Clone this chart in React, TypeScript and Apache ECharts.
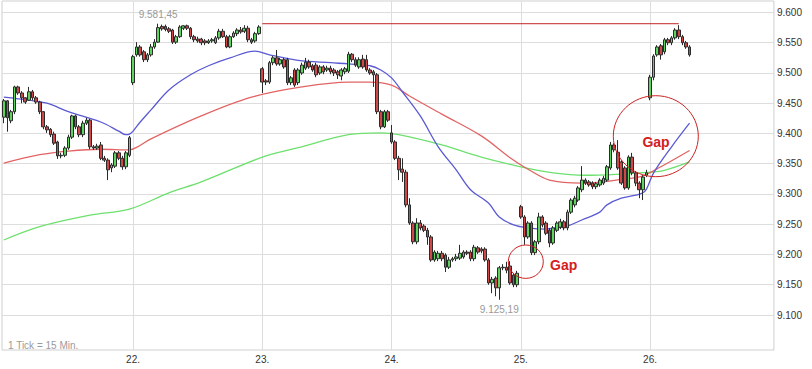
import React, { useEffect, useRef } from "react";
import * as echarts from "echarts";

const FONT = "'Liberation Sans', Arial, sans-serif";

const days = ["21.", "22.", "23.", "24.", "25.", "26."];
const barsPerDay = 36;
const totalSlots = 215;
const yTicks = [9100, 9150, 9200, 9250, 9300, 9350, 9400, 9450, 9500, 9550, 9600];
const yMin = 9042.15;
const yMax = 9619;
const resistance = 9581.45;
const resistanceFrom = 72;
const resistanceTo = 188;

// [open, close, low, high]
const day21 = [
  [9427, 9454, 9417, 9457], [9454, 9426, 9403, 9455], [9421, 9436, 9417, 9439], [9436, 9477, 9432, 9479],
  [9477, 9467, 9464, 9479], [9467, 9459, 9450, 9470], [9459, 9452, 9449, 9460], [9455, 9469, 9454, 9477],
  [9469, 9459, 9455, 9472], [9459, 9452, 9449, 9462], [9452, 9436, 9432, 9454], [9436, 9411, 9407, 9437],
  [9411, 9406, 9401, 9414], [9407, 9398, 9394, 9409], [9399, 9384, 9381, 9403], [9386, 9363, 9358, 9388],
  [9363, 9364, 9359, 9368], [9364, 9376, 9361, 9379], [9376, 9394, 9373, 9398], [9394, 9429, 9391, 9431],
  [9429, 9411, 9407, 9431], [9411, 9398, 9394, 9414], [9398, 9417, 9394, 9421], [9417, 9422, 9414, 9426],
  [9422, 9378, 9374, 9424], [9378, 9376, 9373, 9381], [9376, 9379, 9373, 9383], [9381, 9359, 9356, 9386],
  [9359, 9356, 9353, 9363], [9356, 9340, 9323, 9359], [9343, 9348, 9336, 9351], [9346, 9368, 9343, 9371],
  [9368, 9359, 9356, 9371], [9359, 9345, 9340, 9363], [9345, 9368, 9341, 9371], [9364, 9393, 9361, 9396],
];
const day22 = [
  [9484, 9527, 9480, 9530], [9530, 9543, 9527, 9551], [9543, 9530, 9527, 9546], [9535, 9522, 9518, 9538],
  [9522, 9530, 9518, 9533], [9530, 9543, 9527, 9548], [9543, 9551, 9540, 9556], [9551, 9575, 9550, 9581.45],
  [9577, 9573, 9570, 9580], [9577, 9572, 9569, 9580], [9573, 9569, 9566, 9576], [9571, 9551, 9548, 9573],
  [9551, 9560, 9548, 9563], [9560, 9576, 9558, 9579], [9574, 9578, 9571, 9579], [9578, 9574, 9571, 9580],
  [9574, 9560, 9556, 9576], [9560, 9555, 9551, 9563], [9556, 9553, 9550, 9560], [9556, 9550, 9546, 9558],
  [9553, 9550, 9546, 9556], [9550, 9553, 9548, 9556], [9553, 9555, 9550, 9558], [9550, 9558, 9548, 9561],
  [9558, 9569, 9555, 9573], [9569, 9560, 9558, 9573], [9560, 9543, 9541, 9563], [9543, 9560, 9541, 9563],
  [9560, 9566, 9558, 9569], [9565, 9571, 9561, 9574], [9571, 9568, 9565, 9576], [9569, 9574, 9566, 9579],
  [9574, 9555, 9551, 9578], [9555, 9551, 9548, 9558], [9553, 9565, 9550, 9568], [9565, 9576, 9563, 9579],
];
const day23 = [
  [9507, 9485, 9467, 9510], [9487, 9485, 9480, 9490], [9485, 9517, 9482, 9520], [9517, 9525, 9513, 9528],
  [9525, 9515, 9512, 9538], [9515, 9522, 9512, 9525], [9522, 9510, 9507, 9525], [9522, 9484, 9480, 9525],
  [9484, 9492, 9480, 9495], [9505, 9480, 9477, 9508], [9484, 9505, 9480, 9508], [9500, 9513, 9497, 9517],
  [9508, 9518, 9505, 9525], [9518, 9510, 9507, 9522], [9512, 9505, 9502, 9515], [9513, 9497, 9493, 9517],
  [9500, 9510, 9497, 9513], [9510, 9502, 9498, 9513], [9505, 9508, 9502, 9512], [9508, 9502, 9498, 9512],
  [9505, 9500, 9495, 9508], [9502, 9497, 9490, 9505], [9495, 9505, 9488, 9508], [9502, 9507, 9498, 9510],
  [9503, 9531, 9500, 9535], [9531, 9522, 9518, 9533], [9522, 9513, 9510, 9526], [9510, 9522, 9507, 9526],
  [9523, 9510, 9507, 9530], [9522, 9505, 9502, 9530], [9505, 9500, 9497, 9508], [9502, 9497, 9477, 9505],
  [9497, 9436, 9432, 9500], [9436, 9411, 9407, 9439], [9411, 9436, 9409, 9439], [9436, 9422, 9419, 9439],
];
const day24 = [
  [9401, 9386, 9383, 9414], [9386, 9359, 9356, 9389], [9359, 9340, 9323, 9363], [9341, 9336, 9320, 9359],
  [9336, 9282, 9278, 9340], [9282, 9252, 9249, 9293], [9252, 9221, 9217, 9255], [9221, 9252, 9217, 9260],
  [9252, 9244, 9240, 9257], [9247, 9240, 9237, 9250], [9240, 9229, 9216, 9244], [9229, 9191, 9188, 9232],
  [9191, 9204, 9188, 9207], [9193, 9202, 9189, 9206], [9202, 9193, 9189, 9206], [9199, 9179, 9171, 9202],
  [9179, 9191, 9176, 9196], [9191, 9193, 9188, 9196], [9193, 9196, 9189, 9201], [9194, 9202, 9191, 9216],
  [9196, 9204, 9193, 9207], [9204, 9202, 9199, 9207], [9204, 9193, 9189, 9207], [9193, 9212, 9189, 9216],
  [9211, 9204, 9201, 9214], [9209, 9206, 9202, 9212], [9209, 9191, 9188, 9212], [9191, 9153, 9150, 9194],
  [9153, 9159, 9136, 9163], [9161, 9145, 9131, 9164], [9145, 9178, 9125.19, 9181], [9178, 9179, 9174, 9184],
  [9179, 9174, 9169, 9188], [9181, 9153, 9150, 9189], [9166, 9150, 9146, 9169], [9150, 9169, 9146, 9173],
];
const day25 = [
  [9279, 9262, 9259, 9282], [9262, 9229, 9216, 9265], [9229, 9252, 9226, 9255], [9252, 9203, 9199, 9255],
  [9203, 9221, 9199, 9224], [9221, 9262, 9217, 9269], [9262, 9249, 9245, 9265], [9252, 9235, 9232, 9255],
  [9240, 9219, 9212, 9244], [9219, 9244, 9216, 9247], [9240, 9252, 9237, 9255], [9245, 9254, 9242, 9259],
  [9254, 9244, 9240, 9257], [9244, 9270, 9240, 9274], [9270, 9290, 9267, 9293], [9282, 9293, 9278, 9297],
  [9290, 9310, 9287, 9313], [9307, 9323, 9303, 9346], [9323, 9318, 9315, 9326], [9320, 9315, 9312, 9323],
  [9318, 9312, 9308, 9321], [9312, 9317, 9308, 9320], [9315, 9323, 9312, 9326], [9318, 9326, 9315, 9330],
  [9323, 9345, 9320, 9348], [9343, 9381, 9340, 9386], [9381, 9373, 9369, 9384], [9369, 9343, 9340, 9389],
  [9353, 9318, 9315, 9356], [9343, 9310, 9307, 9346], [9310, 9361, 9307, 9364], [9361, 9335, 9331, 9368],
  [9335, 9318, 9313, 9338], [9318, 9307, 9293, 9321], [9307, 9328, 9290, 9331], [9331, 9335, 9328, 9340],
];
const day26 = [
  [9459, 9493, 9455, 9497], [9493, 9528, 9488, 9531], [9530, 9543, 9527, 9546], [9545, 9530, 9522, 9548],
  [9535, 9555, 9531, 9558], [9555, 9550, 9546, 9558], [9550, 9558, 9546, 9561], [9558, 9571, 9555, 9574],
  [9571, 9560, 9556, 9579], [9560, 9550, 9546, 9563], [9550, 9543, 9540, 9553], [9543, 9530, 9527, 9546],
];

// moving averages: [bar index, value]
const blueMA = [
  [0, 9460], [7, 9455], [12, 9450], [18, 9436], [27, 9419], [32, 9404], [34, 9398], [35, 9399],
  [36, 9404], [38, 9419], [41, 9439], [46, 9472], [52, 9497], [57, 9512], [63, 9525], [70, 9536],
  [74, 9530], [82, 9521], [91, 9517], [96, 9515], [102, 9512], [105, 9505], [108, 9492], [111, 9469],
  [116, 9429], [121, 9378], [126, 9340], [130, 9307], [135, 9285], [138, 9262], [142, 9249], [146, 9244],
  [151, 9242], [154, 9244], [157, 9247], [161, 9257], [166, 9270], [168, 9282], [172, 9293], [176, 9298],
  [178, 9302], [179, 9308], [181, 9335], [186, 9378], [191, 9417],
];
const redMA = [
  [0, 9351], [10, 9365], [18, 9371], [27, 9374], [35, 9373], [37, 9377], [41, 9391], [55, 9429],
  [69, 9460], [83, 9477], [96, 9485], [102, 9485], [108, 9480], [113, 9462], [122, 9432], [133, 9396],
  [141, 9360], [146, 9341], [152, 9323], [161, 9318], [172, 9324], [178, 9330], [183, 9345], [191, 9372],
];
const greenMA = [
  [0, 9224], [10, 9246], [24, 9265], [35, 9275], [46, 9302], [55, 9320], [73, 9363], [83, 9378],
  [96, 9398], [105, 9401], [110, 9398], [122, 9381], [133, 9361], [144, 9345], [153, 9335], [162, 9331],
  [172, 9333], [180, 9336], [184, 9339], [191, 9353],
];

function fmtDE(v: number): string {
  const [i, d] = v.toFixed(2).split(".");
  return i.replace(/\B(?=(\d{3})+(?!\d))/g, ".") + "," + d;
}

export default function App() {
  const ref = useRef<HTMLDivElement>(null);

  useEffect(() => {
    if (!ref.current) return;
    const chart = echarts.init(ref.current, null, { renderer: "svg" });
    const categories = Array.from(
      { length: totalSlots },
      (_, i) => days[Math.floor(i / barsPerDay)] + "#" + (i % barsPerDay)
    );
    const candles = [...day21, ...day22, ...day23, ...day24, ...day25, ...day26];
    const dayStarts = days.slice(1).map((_, k) => categories[(k + 1) * barsPerDay]);
    const slot = 3.5903;

    const gridLines: any[] = [
      ...yTicks.map((v) => ({
        yAxis: v,
        label: {
          show: true,
          position: "end",
          distance: 3,
          formatter: () => (v / 1000).toFixed(3),
          color: "#333",
          fontSize: 10,
          fontFamily: FONT,
        },
      })),
      ...dayStarts.map((c) => ({ xAxis: c, label: { show: false } })),
    ];

    chart.setOption({
      animation: false,
      backgroundColor: "#fff",
      textStyle: { fontFamily: FONT },
      grid: {
        left: 2,
        top: 1,
        width: totalSlots * slot,
        height: 349,
        show: true,
        borderColor: "#cfcfcf",
        borderWidth: 1,
        backgroundColor: "transparent",
      },
      xAxis: {
        type: "category",
        data: categories,
        boundaryGap: true,
        axisLine: { show: false },
        axisTick: { show: false },
        splitLine: { show: false },
        axisLabel: {
          interval: (i: number) => i % barsPerDay === 0 && i > 0,
          formatter: (v: string) => v.split("#")[0],
          color: "#333",
          fontSize: 10,
          margin: 4,
          fontFamily: FONT,
        },
      },
      yAxis: {
        type: "value",
        position: "right",
        min: yMin,
        max: yMax,
        axisLine: { show: false },
        axisTick: { show: false },
        axisLabel: { show: false },
        splitLine: { show: false },
      },
      series: [
        {
          name: "MA long",
          type: "line",
          data: greenMA,
          showSymbol: false,
          smooth: 0.35,
          silent: true,
          z: 2,
          lineStyle: { color: "#6ee06e", width: 1.3 },
          markLine: {
            z: 1,
            silent: true,
            symbol: ["none", "none"],
            animation: false,
            lineStyle: { color: "#dddddd", width: 1, type: "solid" },
            data: gridLines,
          },
        },
        {
          name: "MA mid",
          type: "line",
          data: redMA,
          showSymbol: false,
          smooth: 0.35,
          silent: true,
          z: 2,
          lineStyle: { color: "#e26464", width: 1.3 },
        },
        {
          name: "MA short",
          type: "line",
          data: blueMA,
          showSymbol: false,
          smooth: 0.35,
          silent: true,
          z: 2,
          lineStyle: { color: "#5a5ad2", width: 1.3 },
        },
        {
          name: "Widerstand",
          type: "line",
          data: [
            [resistanceFrom, resistance],
            [resistanceTo, resistance],
          ],
          showSymbol: false,
          silent: true,
          z: 4,
          itemStyle: { color: "#c02626" },
          lineStyle: { color: "#c02626", width: 1 },
        },
        {
          name: "Kurs",
          type: "candlestick",
          data: candles,
          barWidth: 3.2,
          z: 3,
          silent: true,
          itemStyle: {
            color: "#5ed35e",
            color0: "#cf4848",
            borderColor: "#2b2b2b",
            borderColor0: "#2b2b2b",
            borderWidth: 1,
          },
          markPoint: {
            silent: true,
            symbol: "circle",
            symbolSize: 1,
            itemStyle: { color: "rgba(0,0,0,0)" },
            animation: false,
            label: {
              show: true,
              color: "#999",
              fontSize: 10,
              fontFamily: FONT,
              formatter: (p: any) => fmtDE(Number(p.value)),
            },
            data: [
              { type: "max", valueDim: "highest", label: { position: "top", distance: 4 } },
              { type: "min", valueDim: "lowest", label: { position: "bottom", distance: 4 } },
            ],
          },
        },
      ],
      graphic: [
        {
          type: "text",
          x: 8,
          y: 345,
          z: 10,
          style: { text: "1 Tick = 15 Min.", fill: "#9a9a9a", font: `10px ${FONT}`, verticalAlign: "middle" },
        },
        {
          type: "ellipse",
          z: 10,
          shape: { cx: 655.8, cy: 136.2, rx: 42.5, ry: 40.5 },
          style: { fill: "none", stroke: "#cc2222", lineWidth: 1 },
        },
        {
          type: "text",
          x: 656,
          y: 142,
          z: 10,
          style: { text: "Gap", fill: "#d42020", font: `bold 14px ${FONT}`, align: "center", verticalAlign: "middle" },
        },
        {
          type: "ellipse",
          z: 10,
          shape: { cx: 525.8, cy: 261.7, rx: 17.5, ry: 16.7 },
          style: { fill: "none", stroke: "#cc2222", lineWidth: 1 },
        },
        {
          type: "text",
          x: 550,
          y: 265,
          z: 10,
          style: { text: "Gap", fill: "#d42020", font: `bold 14px ${FONT}`, align: "left", verticalAlign: "middle" },
        },
      ],
    });

    return () => chart.dispose();
  }, []);

  return (
    <div
      ref={ref}
      style={{ position: "fixed", left: 0, top: 0, width: 812, height: 369, background: "#fff" }}
    />
  );
}
